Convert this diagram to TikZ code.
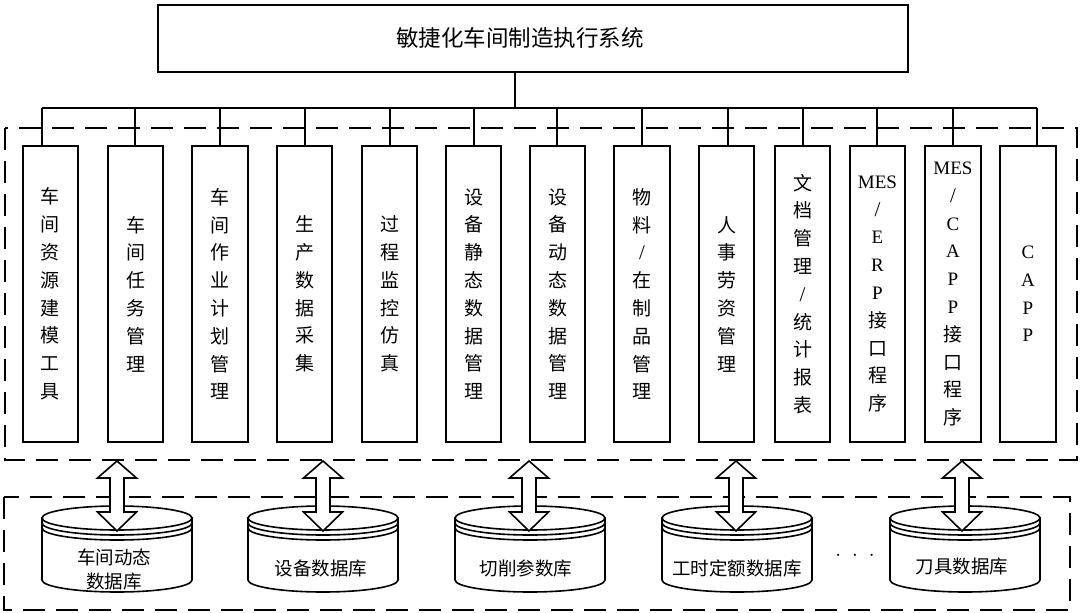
\documentclass[tikz,border=0pt]{standalone}
\usepackage{fontspec}
\setmainfont{Liberation Serif}
\newfontfamily\cjk{Noto Sans CJK SC}
\newfontfamily\lat{Liberation Serif}
\newcommand\slsh{{\lat\fontsize{21}{27.8}\selectfont /}}
\tikzset{
  solidline/.style={line width=1.6pt},
  modbox/.style={draw, line width=1.6pt, minimum width=55.5pt, minimum height=296pt,
    inner sep=0pt, align=center, font=\cjk\fontsize{19}{27.8}\selectfont},
  titlebox/.style={draw, line width=1.6pt, minimum width=750pt, minimum height=67pt, inner sep=0pt},
  region/.style={draw, line width=1.8pt, dash pattern=on 22pt off 11pt},
  dbtext/.style={align=center, font=\cjk\fontsize{18.5}{24}\selectfont, inner sep=0pt},
  cyl/.style={draw, fill=white, line width=1.6pt},
  blockarrow/.style={draw, fill=white, line width=1.6pt, line join=miter},
}
\newcommand\dbcyl[1]{%
  \path[cyl] (#1-75,518) -- (#1-75,580) arc[start angle=180,end angle=0,x radius=75,y radius=12] -- (#1+75,518) -- cycle;
  \path[cyl] (#1,518) ellipse[x radius=75,y radius=12];
  \draw[line width=1.6pt] (#1-75,523) arc[start angle=180,end angle=0,x radius=75,y radius=12];
  \draw[line width=1.6pt] (#1-75,528) arc[start angle=180,end angle=0,x radius=75,y radius=12];
}
\newcommand\dbarrow[1]{%
  \path[blockarrow] (#1,461) -- (#1+19.5,478) -- (#1+7,478) -- (#1+7,512) -- (#1+19.5,512)
    -- (#1,531) -- (#1-19.5,512) -- (#1-7,512) -- (#1-7,478) -- (#1-19.5,478) -- cycle;
}
\begin{document}
\begin{tikzpicture}[x=1pt,y=-1pt]
\useasboundingbox (0,0) rectangle (1080,613);

% regions
\path[region] (5,128) rectangle (1077,460);
\path[region] (4,497) rectangle (1070,610);

% title
\node[titlebox] (top) at (533,38.5) {};
\node[font=\cjk\fontsize{22.5}{24}\selectfont, inner sep=0pt] (title) at (520,38) {敏捷化车间制造执行系统};

% modules
\node[modbox] (b1) at (50.5,294) {车\\间\\资\\源\\建\\模\\工\\具};
\node[modbox] (b2) at (135.5,294) {车\\间\\任\\务\\管\\理};
\node[modbox] (b3) at (220,294) {车\\间\\作\\业\\计\\划\\管\\理};
\node[modbox] (b4) at (304.5,294) {生\\产\\数\\据\\采\\集};
\node[modbox] (b5) at (389.5,294) {过\\程\\监\\控\\仿\\真};
\node[modbox] (b6) at (473.5,294) {设\\备\\静\\态\\数\\据\\管\\理};
\node[modbox] (b7) at (557.5,294) {设\\备\\动\\态\\数\\据\\管\\理};
\node[modbox] (b8) at (642,294) {物\\料\\\slsh\\在\\制\\品\\管\\理};
\node[modbox] (b9) at (726.5,294) {人\\事\\劳\\资\\管\\理};
\node[modbox] (b10) at (802.5,294) {文\\档\\管\\理\\\slsh\\统\\计\\报\\表};
\node[modbox] (b11) at (877.5,294) {{\lat MES}\\\slsh\\{\lat E}\\{\lat R}\\{\lat P}\\接\\口\\程\\序};
\node[modbox] (b12) at (953,294) {{\lat MES}\\\slsh\\{\lat C}\\{\lat A}\\{\lat P}\\{\lat P}\\接\\口\\程\\序};
\node[modbox] (b13) at (1028,294) {{\lat C}\\{\lat A}\\{\lat P}\\{\lat P}};

% bus
\coordinate (hub) at (515,108);
\coordinate (busL) at (42,108);
\coordinate (busR) at (1037,108);
\draw[solidline] (hub |- top.south) -- (hub);
\draw[solidline] (busL) -- (busR);
\foreach \x/\b in {42/b1,135/b2,220/b3,305/b4,390/b5,474/b6,557/b7,642/b8,728/b9,803/b10,877/b11,953/b12,1037/b13}
  \draw[solidline] (\x,108) -- (\x,108 |- \b.north);

% databases
\dbcyl{117}
\dbcyl{323}
\dbcyl{530}
\dbcyl{737}
\dbcyl{965}
\node[dbtext] (db1) at (114,569) {车间动态\\数据库};
\node[dbtext] (db2) at (321,568) {设备数据库};
\node[dbtext] (db3) at (526,568) {切削参数库};
\node[dbtext] (db4) at (737,568) {工时定额数据库};
\node[dbtext] (db5) at (962,567) {刀具数据库};
\node[anchor=base, inner sep=0pt, font=\fontsize{20}{20}\selectfont] (dots) at (855,560) {$\cdot\hspace{6.5pt}\cdot\hspace{6.5pt}\cdot$};

% block arrows
\dbarrow{117}
\dbarrow{323}
\dbarrow{529}
\dbarrow{736}
\dbarrow{962}
\end{tikzpicture}
\end{document}
